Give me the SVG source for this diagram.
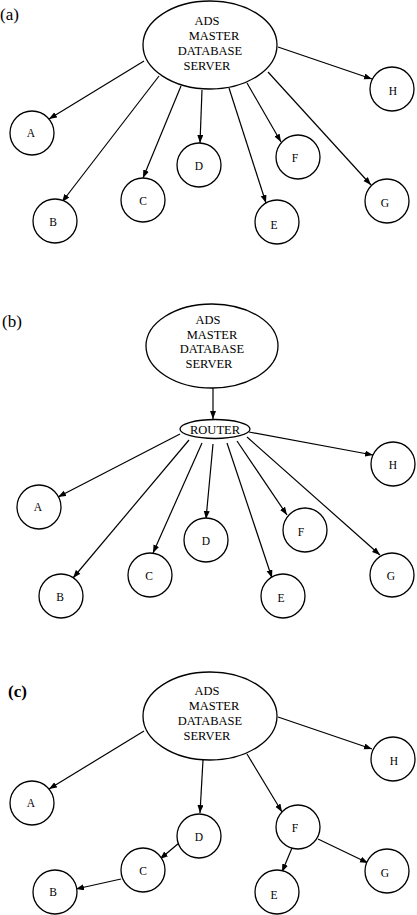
<svg xmlns="http://www.w3.org/2000/svg" width="417" height="915" viewBox="0 0 417 915">
<style>
.bg{fill:#fff}
.n ellipse,.n circle{fill:#fff;stroke:#000;stroke-width:1.3}
.t{font-family:"Liberation Serif","Times New Roman",serif;fill:#000;text-anchor:middle}
.big{font-size:12.5px}
.lbl{font-size:11.5px}
.pl{font-family:"Liberation Serif","Times New Roman",serif;font-size:17px;fill:#000}
.e line{stroke:#000;stroke-width:1.2;marker-end:url(#ah)}
</style>
<defs>
<marker id="ah" markerUnits="userSpaceOnUse" markerWidth="9" markerHeight="7" refX="8" refY="3" orient="auto">
<path d="M0,0 L8,3 L0,6 z" fill="#000"/>
</marker>
</defs>
<rect class="bg" width="417" height="915"/>

<!-- Panel (a) -->
<text class="pl" x="0" y="20">(a)</text>
<g class="e" id="edges-a">
<line x1="144" y1="61" x2="49" y2="119"/>
<line x1="159" y1="76" x2="62" y2="202"/>
<line x1="181" y1="86" x2="143" y2="178"/>
<line x1="202" y1="90" x2="200" y2="143"/>
<line x1="229" y1="88" x2="266" y2="203"/>
<line x1="247" y1="83" x2="281" y2="142"/>
<line x1="268" y1="72" x2="371" y2="185"/>
<line x1="278" y1="47" x2="372" y2="79"/>
</g>
<g class="n" id="a-server"><ellipse cx="210" cy="45" rx="67" ry="44"/>
<text class="t big" x="207" y="25">ADS</text><text class="t big" x="214" y="39.5">MASTER</text><text class="t big" x="210" y="54.5">DATABASE</text><text class="t big" x="207" y="69.5">SERVER</text></g>
<g class="n" id="a-A"><circle cx="32" cy="133" r="22"/><text class="t lbl" x="31" y="137">A</text></g>
<g class="n" id="a-B"><circle cx="55" cy="221" r="22"/><text class="t lbl" x="53" y="226">B</text></g>
<g class="n" id="a-C"><circle cx="143" cy="200" r="22"/><text class="t lbl" x="143" y="205">C</text></g>
<g class="n" id="a-D"><circle cx="199" cy="165" r="22"/><text class="t lbl" x="199" y="170">D</text></g>
<g class="n" id="a-E"><circle cx="277" cy="222" r="22"/><text class="t lbl" x="274" y="229">E</text></g>
<g class="n" id="a-F"><circle cx="298" cy="157" r="22"/><text class="t lbl" x="295" y="162">F</text></g>
<g class="n" id="a-G"><circle cx="387" cy="201" r="22"/><text class="t lbl" x="385" y="207">G</text></g>
<g class="n" id="a-H"><circle cx="392" cy="89" r="22"/><text class="t lbl" x="393" y="95">H</text></g>

<!-- Panel (b) -->
<text class="pl" x="2" y="327">(b)</text>
<g class="e" id="edges-b">
<line x1="213" y1="388" x2="213" y2="419"/>
<line x1="180" y1="434" x2="58" y2="497"/>
<line x1="189" y1="440" x2="73" y2="578"/>
<line x1="202" y1="443" x2="153" y2="553"/>
<line x1="213" y1="444" x2="206" y2="519"/>
<line x1="227" y1="443" x2="272" y2="578"/>
<line x1="237" y1="441" x2="287" y2="515"/>
<line x1="247" y1="437" x2="380" y2="555"/>
<line x1="249" y1="432" x2="373" y2="455"/>
</g>
<g class="n" id="b-server"><ellipse cx="212" cy="346" rx="66" ry="42"/>
<text class="t big" x="208" y="324">ADS</text><text class="t big" x="212" y="338.5">MASTER</text><text class="t big" x="212" y="353">DATABASE</text><text class="t big" x="209" y="367.5">SERVER</text></g>
<g class="n" id="b-router"><ellipse cx="215" cy="429" rx="35" ry="9.5"/><text class="t" style="font-size:12.5px" x="215" y="434">ROUTER</text></g>
<g class="n" id="b-A"><circle cx="39" cy="507" r="22"/><text class="t lbl" x="38" y="511">A</text></g>
<g class="n" id="b-B"><circle cx="61" cy="596" r="22"/><text class="t lbl" x="60" y="601">B</text></g>
<g class="n" id="b-C"><circle cx="150" cy="575" r="22"/><text class="t lbl" x="149" y="580">C</text></g>
<g class="n" id="b-D"><circle cx="206" cy="540" r="22"/><text class="t lbl" x="206" y="545">D</text></g>
<g class="n" id="b-E"><circle cx="283" cy="596" r="22"/><text class="t lbl" x="281" y="602">E</text></g>
<g class="n" id="b-F"><circle cx="305" cy="530" r="22"/><text class="t lbl" x="301" y="536">F</text></g>
<g class="n" id="b-G"><circle cx="392" cy="575" r="22"/><text class="t lbl" x="391" y="580">G</text></g>
<g class="n" id="b-H"><circle cx="393" cy="464" r="22"/><text class="t lbl" x="393" y="469">H</text></g>

<!-- Panel (c) -->
<text class="pl" x="8" y="697" style="font-weight:bold">(c)</text>
<g class="e" id="edges-c">
<line x1="144" y1="731" x2="49" y2="789"/>
<line x1="203" y1="760" x2="200" y2="813"/>
<line x1="247" y1="754" x2="282" y2="812"/>
<line x1="278" y1="717" x2="372" y2="749"/>
<line x1="179" y1="843" x2="160" y2="859"/>
<line x1="121" y1="879" x2="76" y2="889"/>
<line x1="292" y1="848" x2="282" y2="872"/>
<line x1="318" y1="839" x2="368" y2="863"/>
</g>
<g class="n" id="c-server"><ellipse cx="210" cy="716" rx="67" ry="44"/>
<text class="t big" x="207" y="695">ADS</text><text class="t big" x="214" y="709.5">MASTER</text><text class="t big" x="210" y="724.5">DATABASE</text><text class="t big" x="207" y="739.5">SERVER</text></g>
<g class="n" id="c-A"><circle cx="32" cy="803" r="22"/><text class="t lbl" x="31" y="807">A</text></g>
<g class="n" id="c-B"><circle cx="55" cy="892" r="22"/><text class="t lbl" x="53" y="896">B</text></g>
<g class="n" id="c-C"><circle cx="143" cy="870" r="22"/><text class="t lbl" x="143" y="875">C</text></g>
<g class="n" id="c-D"><circle cx="199" cy="836" r="22"/><text class="t lbl" x="199" y="841">D</text></g>
<g class="n" id="c-E"><circle cx="277" cy="892" r="22"/><text class="t lbl" x="274" y="899">E</text></g>
<g class="n" id="c-F"><circle cx="298" cy="827" r="22"/><text class="t lbl" x="295" y="832">F</text></g>
<g class="n" id="c-G"><circle cx="387" cy="871" r="22"/><text class="t lbl" x="385" y="877">G</text></g>
<g class="n" id="c-H"><circle cx="393" cy="759" r="22"/><text class="t lbl" x="394" y="765">H</text></g>
</svg>
